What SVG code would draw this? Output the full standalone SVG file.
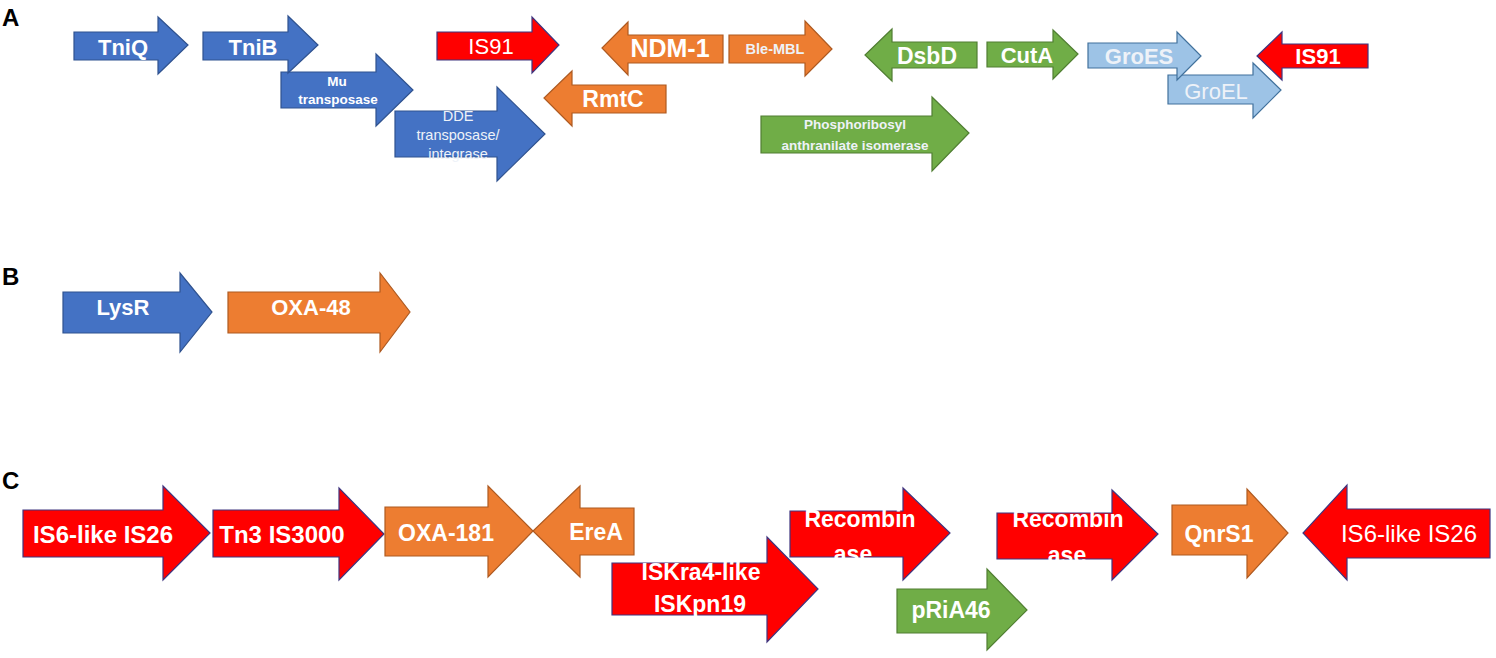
<svg xmlns="http://www.w3.org/2000/svg" width="1496" height="658" viewBox="0 0 1496 658">
<style>
  .blue{fill:#4472C4;stroke:#2F528F;stroke-width:1.2}
  .orange{fill:#ED7D31;stroke:#AE5A21;stroke-width:1.2}
  .red{fill:#FF0000;stroke:#3F357F;stroke-width:1.2}
  .green{fill:#70AD47;stroke:#507E32;stroke-width:1.2}
  .lblue{fill:#9DC3E6;stroke:#41719C;stroke-width:1.2}
  .halo{fill:#FFFFFF;stroke:#FFFFFF;stroke-width:5}
  text{font-family:"Liberation Sans",Arial,sans-serif;fill:#FFFFFF;text-anchor:middle}
  .b{font-weight:bold}
  .dim{fill:#EEF2F8}
  .panel{font-weight:bold;font-size:24px;fill:#000000;text-anchor:start}
</style>
<rect width="1496" height="658" fill="#FFFFFF"/>

<g id="panel-labels">
  <text class="panel" x="2" y="26">A</text>
  <text class="panel" x="2" y="285">B</text>
  <text class="panel" x="2" y="489">C</text>
</g>

<!-- Row A -->
<g id="TniQ">
  <polygon class="blue" points="74,32 158,32 158,17 188,45 158,74 158,60 74,60"/>
  <text class="b" x="123" y="55" font-size="22">TniQ</text>
</g>
<g id="Mu-transposase">
  <polygon class="blue" points="281,72 376,72 376,54 413,90 376,126 376,108 281,108"/>
  <text class="b" x="337" y="86" font-size="13.5">Mu</text>
  <text class="b" x="338" y="104" font-size="13.5">transposase</text>
</g>
<g id="TniB">
  <polygon class="blue" points="203,32 288,32 288,16 318,45 288,73 288,60 203,60"/>
  <text class="b" x="253" y="55" font-size="22">TniB</text>
</g>
<g id="DDE-transposase-integrase">
  <polygon class="blue" points="395,111 497,111 497,87 545,134 497,181 497,157 395,157"/>
  <text class="dim" x="458" y="121" font-size="14.5">DDE</text>
  <text class="dim" x="458" y="140" font-size="14.5">transposase/</text>
  <text class="dim" x="458" y="159" font-size="14.5">integrase</text>
</g>
<g id="IS91-left">
  <polygon class="red" points="437,32 532,32 532,17 559,45 532,73 532,60 437,60"/>
  <text x="491" y="54" font-size="22">IS91</text>
</g>
<g id="NDM-1">
  <polygon class="orange" points="723,35 628,35 628,22 602,48 628,75 628,63 723,63"/>
  <text class="b" x="670" y="57" font-size="25">NDM-1</text>
</g>
<g id="Ble-MBL">
  <polygon class="orange" points="729,35 805,35 805,21 832,49 805,76 805,63 729,63"/>
  <text class="b dim" x="775" y="54" font-size="14.5">Ble-MBL</text>
</g>
<g id="RmtC">
  <polygon class="orange" points="666,85 572,85 572,71 544,98 572,126 572,113 666,113"/>
  <text class="b" x="613" y="107" font-size="23">RmtC</text>
</g>
<g id="DsbD">
  <polygon class="green" points="977,42 892,42 892,29 865,55 892,81 892,68 977,68"/>
  <text class="b" x="927" y="64" font-size="23">DsbD</text>
</g>
<g id="Phosphoribosyl-anthranilate-isomerase">
  <polygon class="green" points="761,116 932,116 932,97 969,133 932,171 932,153 761,153"/>
  <text class="b dim" x="855" y="129" font-size="13.5">Phosphoribosyl</text>
  <text class="b dim" x="855" y="150" font-size="13.5">anthranilate isomerase</text>
</g>
<g id="CutA">
  <polygon class="green" points="987,42 1053,42 1053,30 1078,54 1053,79 1053,67 987,67"/>
  <text class="b" x="1027" y="63" font-size="22">CutA</text>
</g>
<g id="GroEL">
  <polygon class="lblue" points="1168,75 1253,75 1253,63 1281,90 1253,118 1253,104 1168,104"/>
  <text class="dim" x="1216" y="99" font-size="22">GroEL</text>
</g>
<g id="GroES">
  <polygon class="lblue" points="1088,43 1177,43 1177,32 1201,56 1177,80 1177,68 1088,68"/>
  <text class="b dim" x="1139" y="64" font-size="22">GroES</text>
</g>
<g id="IS91-right">
  <polygon class="halo" points="1368,44 1282,44 1282,32 1257,56 1282,80 1282,68 1368,68"/>
  <polygon class="red" points="1368,44 1282,44 1282,32 1257,56 1282,80 1282,68 1368,68"/>
  <text class="b" x="1318" y="64" font-size="22">IS91</text>
</g>

<!-- Row B -->
<g id="LysR">
  <polygon class="blue" points="63,292 180,292 180,273 212,312 180,352 180,333 63,333"/>
  <text class="b" x="123" y="315" font-size="22">LysR</text>
</g>
<g id="OXA-48">
  <polygon class="orange" points="228,292 380,292 380,273 410,312 380,352 380,333 228,333"/>
  <text class="b" x="311" y="315" font-size="22">OXA-48</text>
</g>

<!-- Row C -->
<g id="IS6-like-IS26-left">
  <polygon class="red" points="23,510 163,510 163,486 210,533 163,580 163,557 23,557"/>
  <text class="b" x="103" y="543" font-size="24">IS6-like IS26</text>
</g>
<g id="Tn3-IS3000">
  <polygon class="red" points="213,510 339,510 339,488 384,534 339,580 339,557 213,557"/>
  <text class="b" x="282" y="543" font-size="24">Tn3 IS3000</text>
</g>
<g id="OXA-181">
  <polygon class="orange" points="385,507 488,507 488,486 533,531 488,577 488,556 385,556"/>
  <text class="b" x="446" y="541" font-size="23">OXA-181</text>
</g>
<g id="EreA">
  <polygon class="orange" points="634,508 580,508 580,486 533,531 580,577 580,555 634,555"/>
  <text class="b" x="596" y="540" font-size="23">EreA</text>
</g>
<g id="ISKra4-like-ISKpn19">
  <polygon class="red" points="612,563 767,563 767,537 818,589 767,642 767,615 612,615"/>
  <text class="b" x="701" y="580" font-size="23">ISKra4-like</text>
  <text class="b" x="700" y="612" font-size="23">ISKpn19</text>
</g>
<g id="Recombinase-1">
  <polygon class="red" points="790,511 903,511 903,488 950,533 903,580 903,557 790,557"/>
  <text class="b" x="860" y="527" font-size="23">Recombin</text>
  <text class="b" x="853" y="562" font-size="23">ase</text>
</g>
<g id="pRiA46">
  <polygon class="green" points="897,589 987,589 987,569 1027,610 987,650 987,633 897,633"/>
  <text class="b" x="951" y="618" font-size="23">pRiA46</text>
</g>
<g id="Recombinase-2">
  <polygon class="red" points="997,513 1112,513 1112,490 1158,534 1112,580 1112,559 997,559"/>
  <text class="b" x="1068" y="527" font-size="23">Recombin</text>
  <text class="b" x="1067" y="563" font-size="23">ase</text>
</g>
<g id="QnrS1">
  <polygon class="orange" points="1172,505 1247,505 1247,489 1288,533 1247,578 1247,555 1172,555"/>
  <text class="b" x="1219" y="542" font-size="23">QnrS1</text>
</g>
<g id="IS6-like-IS26-right">
  <polygon class="red" points="1490,509 1347,509 1347,485 1303,533 1347,580 1347,558 1490,558"/>
  <text x="1409" y="542" font-size="24">IS6-like IS26</text>
</g>
</svg>
